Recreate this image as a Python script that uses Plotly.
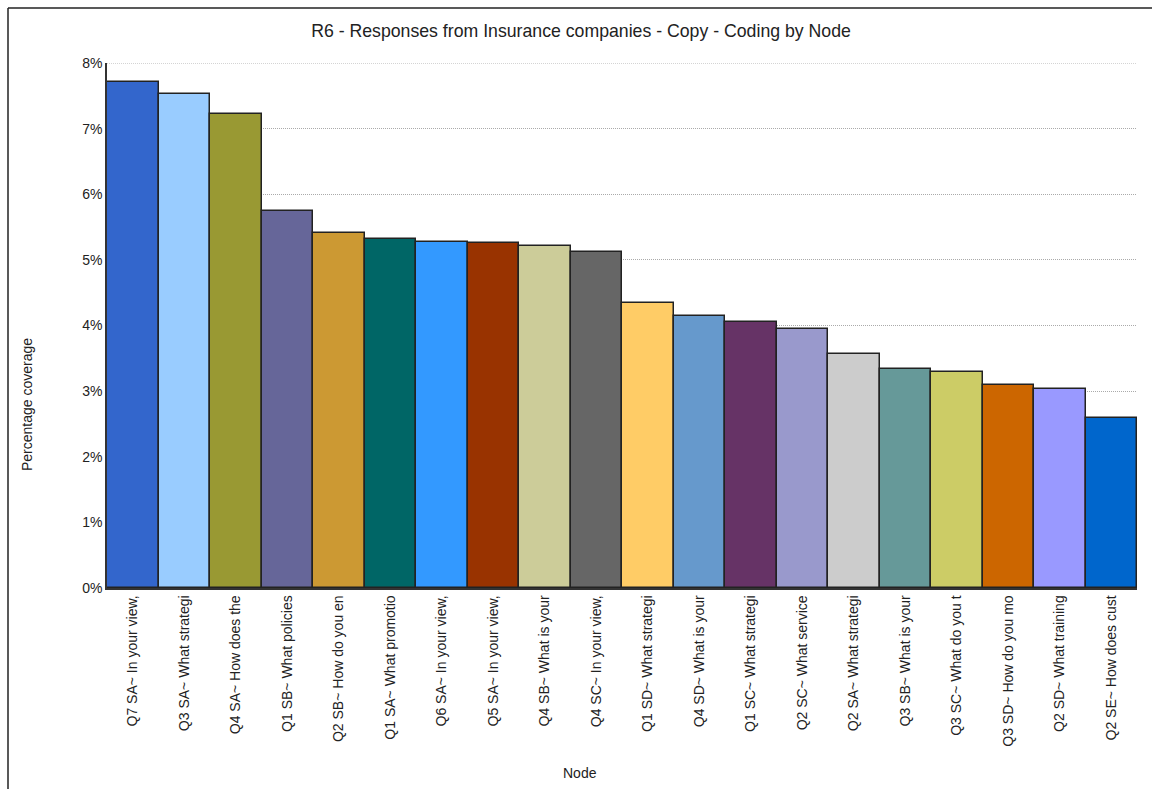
import plotly.graph_objects as go

# Coding coverage per node (percent)
nodes = [
    "Q7 SA~ In your view,",
    "Q3 SA~ What strategi",
    "Q4 SA~ How does the",
    "Q1 SB~ What policies",
    "Q2 SB~ How do you en",
    "Q1 SA~ What promotio",
    "Q6 SA~ In your view,",
    "Q5 SA~ In your view,",
    "Q4 SB~ What is your",
    "Q4 SC~ In your view,",
    "Q1 SD~ What strategi",
    "Q4 SD~ What is your",
    "Q1 SC~ What strategi",
    "Q2 SC~ What service",
    "Q2 SA~ What strategi",
    "Q3 SB~ What is your",
    "Q3 SC~ What do you t",
    "Q3 SD~ How do you mo",
    "Q2 SD~ What training",
    "Q2 SE~ How does cust",
]
coverage = [7.71, 7.53, 7.23, 5.75, 5.41, 5.32, 5.28, 5.26, 5.21, 5.12,
            4.35, 4.14, 4.06, 3.94, 3.57, 3.33, 3.29, 3.10, 3.04, 2.59]
bar_colors = ["#3366CC", "#99CCFF", "#999933", "#666699", "#CC9933",
              "#006666", "#3399FF", "#993300", "#CCCC99", "#666666",
              "#FFCC66", "#6699CC", "#663366", "#9999CC", "#CCCCCC",
              "#669999", "#CCCC66", "#CC6600", "#9999FF", "#0066CC"]
y_ticks = [0, 1, 2, 3, 4, 5, 6, 7, 8]
y_tick_labels = [f"{v}%" for v in y_ticks]
y_max = y_ticks[-1]

# unique x keys so repeated labels still get their own bar
x_keys = list(range(len(nodes)))

fig = go.Figure(
    go.Bar(
        x=x_keys,
        y=coverage,
        marker=dict(color=bar_colors, line=dict(color="#222222", width=1.5)),
        hoverinfo="x+y",
    )
)

W, H = 1152, 789
ml, mr, mt, mb = 107, 15, 63, 201
pw, ph = W - ml - mr, H - mt - mb

def px_x(p):
    return (p - ml) / pw

def px_y(p):
    return (H - mb - p) / ph

grid_style = dict(color="#AAAAAA", width=1, dash="1px,1px")

fig.update_layout(
    width=W, height=H,
    margin=dict(l=ml, r=mr, t=mt, b=mb),
    paper_bgcolor="white", plot_bgcolor="white",
    font=dict(family="Liberation Sans, Arial, sans-serif", size=14, color="#222222"),
    bargap=0,
    showlegend=False,
    title=dict(
        text="R6 - Responses from Insurance companies - Copy - Coding by Node",
        x=581 / W, xanchor="center", xref="container",
        y=1 - 31 / H, yanchor="middle", yref="container",
        font=dict(size=17.7, color="#222222"),
    ),
    xaxis=dict(
        tickmode="array", tickvals=x_keys, ticktext=nodes,
        tickangle=-90, range=[-0.5, len(nodes) - 0.5],
        showline=True, linecolor="#333333", linewidth=1.5,
        showgrid=False, ticks="", zeroline=False,
        tickfont=dict(size=14),
    ),
    yaxis=dict(
        range=[0, y_max], tickmode="array",
        tickvals=y_ticks, ticktext=y_tick_labels,
        showline=True, linecolor="#333333", linewidth=1.5,
        showgrid=True, gridcolor=grid_style["color"], griddash="1px,1px", gridwidth=1,
        zeroline=False, ticks="", tickfont=dict(size=14),
    ),
    annotations=[
        dict(text="Percentage coverage", x=px_x(27), y=px_y(405),
             xref="paper", yref="paper", textangle=-90, showarrow=False,
             font=dict(size=14), xanchor="center", yanchor="middle"),
        dict(text="Node", x=px_x(580), y=px_y(773),
             xref="paper", yref="paper", showarrow=False,
             font=dict(size=14), xanchor="center", yanchor="middle"),
    ],
    shapes=[
        # top gridline at the axis maximum
        dict(type="line", xref="paper", yref="y", layer="below",
             x0=0, x1=1, y0=y_max, y1=y_max, line=grid_style),
        # frame around the chart
        dict(type="line", xref="paper", yref="paper",
             x0=px_x(8), x1=px_x(1160), y0=px_y(8), y1=px_y(8),
             line=dict(color="#222222", width=1.5)),
        dict(type="line", xref="paper", yref="paper",
             x0=px_x(8), x1=px_x(8), y0=px_y(8), y1=px_y(800),
             line=dict(color="#222222", width=1.5)),
    ],
)

fig.write_html("out.html")
